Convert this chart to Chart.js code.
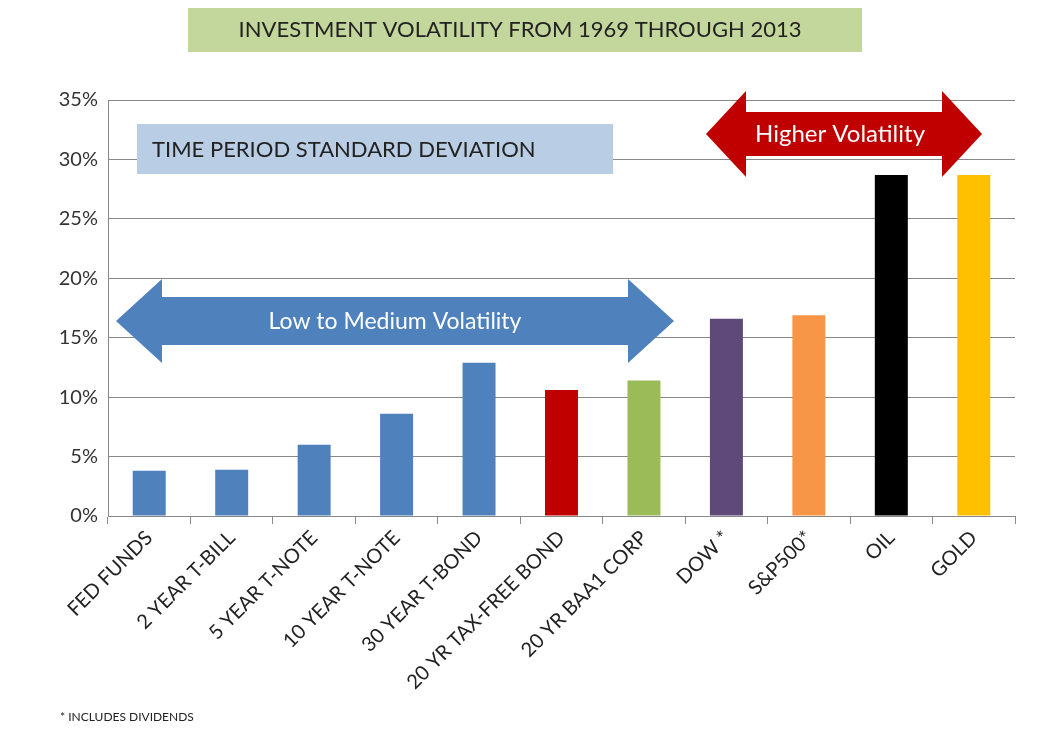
<!DOCTYPE html>
<html>
<head>
<meta charset="utf-8">
<script src="https://cdn.jsdelivr.net/npm/chart.js@4"></script>
<style>
  html, body { margin: 0; padding: 0; background: #fff; }
  #wrap { width: 1052px; height: 743px; position: relative; }
</style>
</head>
<body>
<div id="wrap"><canvas id="volChart" width="1052" height="743"></canvas></div>
<script>
const categories = ['FED FUNDS', '2 YEAR T-BILL', '5 YEAR T-NOTE', '10 YEAR T-NOTE', '30 YEAR T-BOND',
    '20 YR TAX-FREE BOND', '20 YR BAA1 CORP', 'DOW *', 'S&P500*', 'OIL', 'GOLD'];
const stdDev = [3.8, 3.9, 6.0, 8.6, 12.9, 10.6, 11.4, 16.6, 16.9, 28.7, 28.7];
const barColors = ['#4F81BD', '#4F81BD', '#4F81BD', '#4F81BD', '#4F81BD',
    '#C00000', '#9BBB59', '#5F497A', '#F79646', '#000000', '#FFC000'];

const FONT = 'Lato, "Open Sans", sans-serif';

function arrow(ctx, x1, x2, cy, bodyH, headH, headL, color) {
    ctx.beginPath();
    ctx.moveTo(x1, cy);
    ctx.lineTo(x1 + headL, cy - headH);
    ctx.lineTo(x1 + headL, cy - bodyH);
    ctx.lineTo(x2 - headL, cy - bodyH);
    ctx.lineTo(x2 - headL, cy - headH);
    ctx.lineTo(x2, cy);
    ctx.lineTo(x2 - headL, cy + headH);
    ctx.lineTo(x2 - headL, cy + bodyH);
    ctx.lineTo(x1 + headL, cy + bodyH);
    ctx.lineTo(x1 + headL, cy + headH);
    ctx.closePath();
    ctx.fillStyle = color;
    ctx.fill();
}

const decorations = {
    id: 'decorations',
    afterDraw(chart) {
        const ctx = chart.ctx;
        ctx.save();
        // title box
        ctx.fillStyle = '#C3D69B';
        ctx.fillRect(188, 8, 674, 44);
        ctx.fillStyle = '#222';
        ctx.font = '22px ' + FONT;
        ctx.textAlign = 'center';
        ctx.textBaseline = 'middle';
        ctx.fillText('INVESTMENT VOLATILITY FROM 1969 THROUGH 2013', 520, 30);
        // subtitle box
        ctx.fillStyle = '#B9CDE5';
        ctx.fillRect(137, 124, 476, 50);
        ctx.fillStyle = '#222';
        ctx.font = '22px ' + FONT;
        ctx.textAlign = 'left';
        ctx.fillText('TIME PERIOD STANDARD DEVIATION', 152, 150);
        // arrows
        arrow(ctx, 116, 674, 321, 24, 42, 46, '#4F81BD');
        arrow(ctx, 706, 982, 134, 22, 43, 40, '#C00000');
        ctx.fillStyle = '#fff';
        ctx.textAlign = 'center';
        ctx.font = '23px ' + FONT;
        ctx.fillText('Low to Medium Volatility', 395, 322);
        ctx.font = '24px ' + FONT;
        ctx.fillText('Higher Volatility', 840, 134);
        // footnote
        ctx.fillStyle = '#222';
        ctx.font = '12px ' + FONT;
        ctx.textAlign = 'left';
        ctx.fillText('* INCLUDES DIVIDENDS', 60, 717);
        ctx.restore();
    }
};

new Chart(document.getElementById('volChart'), {
    type: 'bar',
    data: {
        labels: categories,
        datasets: [{
            data: stdDev,
            backgroundColor: barColors,
            categoryPercentage: 1,
            barPercentage: 0.4
        }]
    },
    options: {
        responsive: false,
        animation: false,
        layout: { padding: { top: 100, right: 37, left: 0, bottom: 0 } },
        plugins: { legend: { display: false }, tooltip: { enabled: false } },
        scales: {
            y: {
                min: 0, max: 35,
                ticks: { stepSize: 5, callback: v => v + '%', color: '#333', font: { size: 20, family: FONT }, padding: 10 },
                grid: { color: '#888', drawTicks: false },
                border: { color: '#888' },
                afterFit: s => { s.width = 108; }
            },
            x: {
                ticks: { minRotation: 45, maxRotation: 45, color: '#222', font: { size: 20, family: FONT }, padding: 2 },
                grid: { drawOnChartArea: false, offset: true, tickLength: 8, color: '#888' },
                border: { color: '#888' },
                afterFit: s => { s.height = 227; }
            }
        }
    },
    plugins: [decorations]
});
</script>
</body>
</html>
